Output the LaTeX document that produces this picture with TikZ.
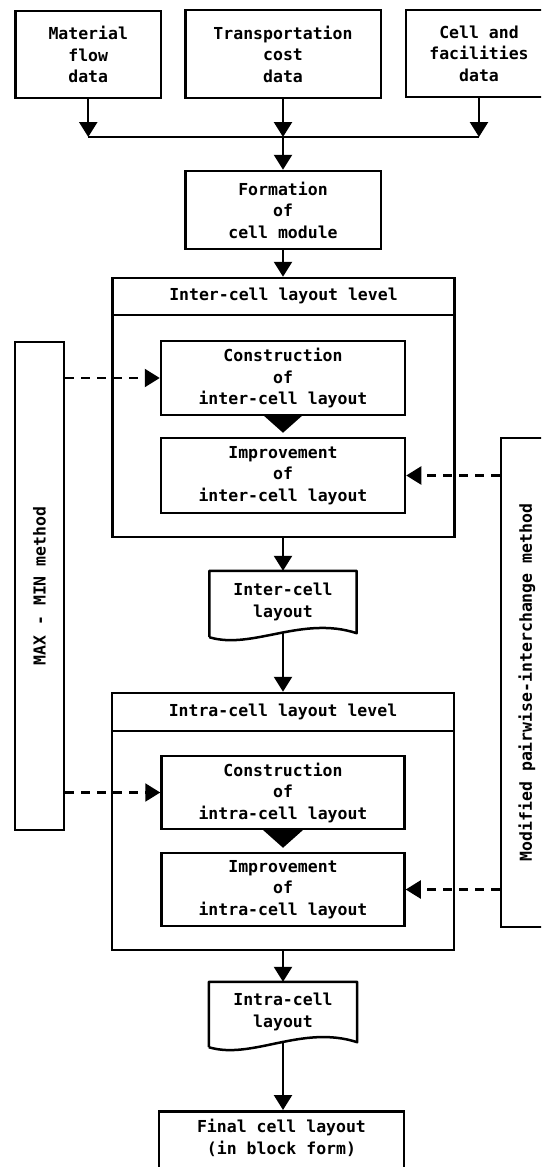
\documentclass[tikz,border=0pt]{standalone}
\usepackage{fontspec}
\newfontfamily\flowmono{DejaVu Sans Mono}
\usetikzlibrary{arrows.meta,calc}

\begin{document}
\begin{tikzpicture}[x=1pt,y=-1pt,
  every node/.style={font=\flowmono\bfseries\fontsize{16.5}{21.5}\selectfont, inner sep=0pt, align=center},
  box/.style={draw, line width=2.5pt},
  flow/.style={line width=2.4pt, -{Triangle[width=18pt,length=15pt]}},
  stage/.style={line width=2.4pt, -{Triangle[width=40pt,length=18pt]}, shorten >=4pt},
  feed/.style={line width=2.2pt, dash pattern=on 9pt off 7pt, -{Triangle[width=18pt,length=15pt]}},
  docline/.style={line width=2.5pt, line join=round}]

% page frame
\fill[white] (0,0) rectangle (541,1167);
\useasboundingbox (0,0) rectangle (541,1167);
\clip (0,0) rectangle (541,1167);

% input data
\node (mat) [box, minimum width=145.5, minimum height=87] at (88.25,54.5) {Material\\flow\\data};
\node (trans) [box, minimum width=195.5, minimum height=88] at (283,54) {Transportation\\cost\\data};
\node (cell) [box, minimum width=146, minimum height=87] at (479,53.5) {Cell and\\facilities\\data};
\coordinate (join) at (283,137);

\draw[line width=2.4pt] (mat.south |- join) -- (cell.south |- join);
\draw[flow] (mat.south) -- (mat.south |- join);
\draw[flow] (trans.south) -- (join);
\draw[flow] (cell.south) -- (cell.south |- join);

% cell module
\node (form) [box, minimum width=195.5, minimum height=78] at (283,210) {Formation\\of\\cell module};
\draw[flow] (join) -- (form.north);

% inter-cell level
\node (interlvl) [box, minimum width=342, minimum height=259] at (283.5,407.5) {};
\node (interhead) [minimum width=342, minimum height=38, anchor=north] at (interlvl.north) {Inter-cell layout level};
\draw[line width=2.5pt] (interhead.south west) -- (interhead.south east);
\draw[flow] (form.south) -- (form.south |- interlvl.north);

\node (consi) [box, minimum width=244, minimum height=74] at (283,378) {Construction\\of\\inter-cell layout};
\node (impi) [box, minimum width=244, minimum height=75] at (283,475.5) {Improvement\\of\\inter-cell layout};
\draw[stage] (consi.south) -- (impi.north);

% side methods
\node (maxbox) [box, minimum width=49, minimum height=488] at (39.5,586) {};
\node (maxtxt) [rotate=90] at (maxbox.center) {MAX - MIN method};
\node (rbox) [box, minimum width=52, minimum height=489] at (527,682.5) {};
\node (rtxt) [rotate=90] at (rbox.center) {Modified pairwise-interchange method};

\draw[feed] (consi.west -| maxbox.east) -- (consi.west);
\draw[feed] (impi.east -| rbox.west) -- (impi.east);

% inter-cell layout document
\node (idoc) [minimum width=147, minimum height=62] at (283,602) {Inter-cell\\layout};
\draw[docline] (idoc.south west) ++(0,4) -- (idoc.north west) -- (idoc.north east) -- (idoc.south east)
  .. controls ($(idoc.south)+(19,-18)$) and ($(idoc.south)+(-31,17)$) .. ($(idoc.south west)+(0,4)$);
\draw[flow] (idoc.north |- interlvl.south) -- (idoc.north);

% intra-cell level
\node (intralvl) [box, minimum width=342, minimum height=257] at (283,821.5) {};
\node (intrahead) [minimum width=342, minimum height=39, anchor=north] at (intralvl.north) {Intra-cell layout level};
\draw[line width=2.5pt] (intrahead.south west) -- (intrahead.south east);
\draw[flow] (idoc.south) -- (intralvl.north);

\node (consa) [box, minimum width=243, minimum height=73] at (283,792.5) {Construction\\of\\intra-cell layout};
\node (impa) [box, minimum width=243, minimum height=73] at (283,889.5) {Improvement\\of\\intra-cell layout};
\draw[stage] (consa.south) -- (impa.north);

\draw[feed] (consa.west -| maxbox.east) -- (consa.west);
\draw[feed] (impa.east -| rbox.west) -- (impa.east);

% intra-cell layout document
\node (adoc) [minimum width=148, minimum height=60] at (283,1012) {Intra-cell\\layout};
\draw[docline] (adoc.south west) ++(0,5) -- (adoc.north west) -- (adoc.north east) -- (adoc.south east)
  .. controls ($(adoc.south)+(19,-18)$) and ($(adoc.south)+(-31,18)$) .. ($(adoc.south west)+(0,5)$);
\draw[flow] (intralvl.south) -- (adoc.north);

% final result
\node (final) [box, minimum width=245, minimum height=80, anchor=north] at (281.5,1110) {};
\node (finaltxt) at (281.5,1138) {Final cell layout\\(in block form)};
\draw[flow] (adoc.south) -- (adoc.south |- final.north);

\end{tikzpicture}
\end{document}
